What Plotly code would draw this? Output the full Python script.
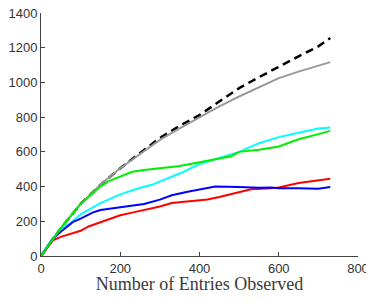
import plotly.graph_objects as go

# Data
x_dash = [0, 50, 100, 150, 200, 250, 300, 350, 400, 450, 500, 550, 600, 650, 700, 730]
y_dash = [0, 160, 300, 410, 506, 592, 680, 750, 812, 890, 967, 1030, 1092, 1150, 1208, 1256]

x_gray = [0, 50, 100, 150, 200, 250, 300, 350, 400, 450, 500, 550, 600, 650, 700, 730]
y_gray = [0, 160, 300, 410, 506, 590, 669, 735, 800, 862, 919, 972, 1025, 1062, 1096, 1117]

x_green = [0, 50, 100, 150, 170, 200, 230, 260, 300, 350, 400, 450, 480, 500, 550, 600, 650, 700, 730]
y_green = [0, 160, 300, 400, 430, 458, 485, 495, 505, 518, 540, 560, 575, 600, 612, 631, 673, 702, 721]

x_cyan = [0, 30, 50, 80, 100, 130, 150, 200, 250, 280, 300, 350, 400, 450, 500, 550, 600, 650, 700, 730]
y_cyan = [0, 105, 150, 200, 240, 280, 305, 355, 393, 410, 430, 475, 530, 565, 600, 650, 685, 710, 735, 740]

x_blue = [0, 30, 50, 80, 100, 130, 150, 200, 230, 260, 300, 330, 370, 400, 440, 500, 550, 580, 600, 650, 700, 730]
y_blue = [0, 100, 140, 195, 215, 250, 265, 280, 287, 300, 325, 350, 370, 382, 400, 398, 393, 395, 390, 390, 388, 397]

x_red = [0, 30, 50, 80, 100, 120, 150, 180, 200, 230, 260, 300, 330, 380, 420, 450, 500, 530, 580, 600, 650, 700, 720, 730]
y_red = [0, 90, 110, 130, 145, 170, 195, 220, 235, 250, 265, 285, 305, 315, 325, 340, 370, 385, 390, 395, 420, 435, 445, 445]

x_ticks = [0, 200, 400, 600, 800]
y_ticks = [0, 200, 400, 600, 800, 1000, 1200, 1400]
x_title = "Number of Entries Observed"

fig = go.Figure()
series = [
    (x_dash, y_dash, "black", "8px,5px", 2.5),
    (x_gray, y_gray, "#999999", "solid", 2),
    (x_red, y_red, "#ff0000", "solid", 2),
    (x_cyan, y_cyan, "#00ffff", "solid", 2),
    (x_blue, y_blue, "#0000ff", "solid", 2),
    (x_green, y_green, "#00ee00", "solid", 2),
]
for xs, ys, c, d, w in series:
    fig.add_trace(go.Scatter(x=xs, y=ys, mode="lines",
                             line=dict(color=c, width=w, dash=d),
                             showlegend=False))

# page body has an 8px margin, so the figure is sized to fit inside the window
fig.update_layout(
    width=366, height=286,
    margin=dict(l=33, r=16, t=5, b=38, autoexpand=False),
    plot_bgcolor="white", paper_bgcolor="white",
    font=dict(family="Liberation Sans, Arial, sans-serif", size=13, color="#333333"),
)
fig.update_xaxes(range=[0, 800], tickvals=x_ticks, showgrid=False, zeroline=False,
                 automargin=False, ticklabeloverflow="allow",
                 showline=True, linecolor="#444444", linewidth=1,
                 ticks="inside", ticklen=4, tickcolor="#444444",
                 title=dict(text=x_title, standoff=3,
                            font=dict(family="Liberation Serif, Times New Roman, serif",
                                      size=18, color="#3a3a3a")))
fig.update_yaxes(range=[0, 1400], tickvals=y_ticks, showgrid=False, zeroline=False,
                 automargin=False, ticklabeloverflow="allow",
                 showline=True, linecolor="#444444", linewidth=1,
                 ticks="inside", ticklen=4, tickcolor="#444444")

fig.write_html("out.html")
